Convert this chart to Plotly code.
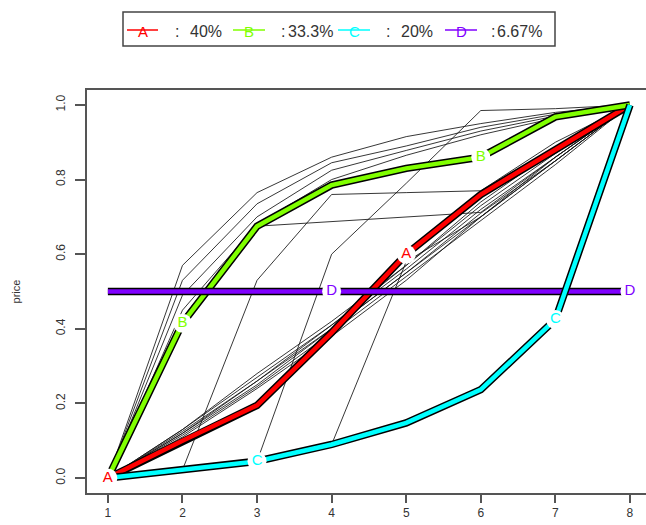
import plotly.graph_objects as go

# ---------------- data ----------------
x_vals = [1, 2, 3, 4, 5, 6, 7, 8]

series_A = [0.00, 0.10, 0.195, 0.39, 0.60, 0.76, 0.88, 1.00]
series_B = [0.00, 0.415, 0.675, 0.785, 0.83, 0.86, 0.968, 1.00]
series_C = [0.00, 0.022, 0.045, 0.09, 0.148, 0.237, 0.425, 1.00]
series_D = [0.50, 0.50, 0.50, 0.50, 0.50, 0.50, 0.50, 0.50]

# thin black background paths
thin_paths = [
    [0.00, 0.57, 0.765, 0.86, 0.915, 0.95, 0.98, 1.00],
    [0.00, 0.53, 0.735, 0.845, 0.89, 0.94, 0.975, 1.00],
    [0.00, 0.49, 0.70, 0.825, 0.878, 0.93, 0.97, 1.00],
    [0.00, 0.45, 0.68, 0.80, 0.865, 0.92, 0.965, 1.00],
    [0.00, 0.43, 0.675, 0.687, 0.70, 0.712, 0.86, 1.00],
    [0.00, 0.022, 0.53, 0.76, 0.765, 0.77, 0.90, 1.00],
    [0.00, 0.022, 0.045, 0.60, 0.79, 0.985, 0.99, 1.00],
    [0.00, 0.022, 0.045, 0.09, 0.58, 0.70, 0.85, 1.00],
    [0.00, 0.13, 0.27, 0.41, 0.56, 0.72, 0.86, 1.00],
    [0.00, 0.125, 0.26, 0.40, 0.55, 0.71, 0.85, 1.00],
    [0.00, 0.12, 0.25, 0.40, 0.55, 0.70, 0.85, 1.00],
    [0.00, 0.115, 0.245, 0.39, 0.54, 0.69, 0.84, 1.00],
    [0.00, 0.11, 0.24, 0.38, 0.53, 0.70, 0.86, 1.00],
    [0.00, 0.13, 0.28, 0.42, 0.57, 0.73, 0.87, 1.00],
    [0.00, 0.12, 0.26, 0.41, 0.57, 0.74, 0.88, 1.00],
]

letters = ["A", "B", "C", "D"]
shares = ["40%", "33.3%", "20%", "6.67%"]
colors = ["#FF0000", "#80FF00", "#00FFFF", "#8000FF"]
label_start = [0, 1, 2, 3]  # index of first labelled point for each series (every 4th)

x_ticks = [1, 2, 3, 4, 5, 6, 7, 8]
y_ticks = [0.0, 0.2, 0.4, 0.6, 0.8, 1.0]
y_tick_text = ["0.0", "0.2", "0.4", "0.6", "0.8", "1.0"]

# ---------------- figure ----------------
W, H = 646, 525
ML, MR, MT, MB = 87, 0, 90, 32
PW, PH = W - ML - MR, H - MT - MB

fig = go.Figure()

for p in thin_paths:
    fig.add_trace(go.Scatter(x=x_vals, y=p, mode="lines",
                             line=dict(color="rgba(20,20,20,0.85)", width=1),
                             hoverinfo="skip", showlegend=False))

all_series = [series_A, series_B, series_C, series_D]
order = [0, 1, 3, 2]
for i in order:
    ys = all_series[i]
    fig.add_trace(go.Scatter(x=x_vals, y=ys, mode="lines",
                             line=dict(color="black", width=7.5),
                             hoverinfo="skip", showlegend=False))
    fig.add_trace(go.Scatter(x=x_vals, y=ys, mode="lines",
                             line=dict(color=colors[i], width=4.5),
                             hoverinfo="skip", showlegend=False))
for i in order:
    ys = all_series[i]
    idx = list(range(label_start[i], len(x_vals), 4))
    fig.add_trace(go.Scatter(x=[x_vals[k] for k in idx], y=[ys[k] for k in idx],
                             mode="markers+text", cliponaxis=False,
                             marker=dict(color="white", size=19, line=dict(width=0)),
                             text=[letters[i]] * len(idx), textposition="middle center",
                             textfont=dict(family="Liberation Sans, Arial", size=15, color=colors[i]),
                             hoverinfo="skip", showlegend=False))

axis_col = "#555555"
fig.update_xaxes(range=[0.72, 8.215],
                 tickvals=x_ticks, ticktext=[str(v) for v in x_ticks],
                 showgrid=False, zeroline=False, showline=True, mirror=True,
                 linecolor=axis_col, linewidth=1.5, ticks="outside", ticklen=8,
                 tickcolor=axis_col, tickwidth=1.5,
                 tickfont=dict(family="Liberation Sans, Arial", size=12, color="#333"))
fig.update_yaxes(range=[-0.04, 1.04], tickvals=y_ticks, ticktext=y_tick_text,
                 showgrid=False, zeroline=False, showline=True,
                 linecolor=axis_col, linewidth=1.5, ticks="outside", ticklen=10,
                 tickcolor=axis_col, tickwidth=1.5, tickangle=-90, ticklabelstandoff=5,
                 tickfont=dict(family="Liberation Sans, Arial", size=12, color="#333"),
                 title=dict(text="price", font=dict(family="Liberation Sans, Arial", size=11, color="#333"),
                            standoff=32))

# ---------------- manual legend (pixel -> paper) ----------------
def px(xp):
    return (xp - ML) / PW

def py(yp):
    return (MT + PH - yp) / PH

shapes = [dict(type="rect", xref="paper", yref="paper",
               x0=px(123), x1=px(555), y0=py(46), y1=py(12),
               line=dict(color="#444", width=1.5), fillcolor="white")]
line_x = [(127, 158), (233, 265), (338, 370), (445, 477)]
colon_x = [173, 279, 384, 489]
text_x = [188, 286, 399, 495]
annotations = []
for i in range(4):
    x0, x1 = line_x[i]
    shapes.append(dict(type="line", xref="paper", yref="paper",
                       x0=px(x0), x1=px(x1), y0=py(30), y1=py(30),
                       line=dict(color=colors[i], width=1.5)))
    annotations.append(dict(xref="paper", yref="paper", x=px((x0 + x1) / 2), y=py(31),
                            text=letters[i], showarrow=False, xanchor="center", yanchor="middle",
                            font=dict(family="Liberation Sans, Arial", size=15, color=colors[i])))
    annotations.append(dict(xref="paper", yref="paper", x=px(colon_x[i]), y=py(31),
                            text=":", showarrow=False, xanchor="left", yanchor="middle",
                            font=dict(family="Liberation Sans, Arial", size=16, color="#333")))
    annotations.append(dict(xref="paper", yref="paper", x=px(text_x[i]), y=py(31),
                            text=shares[i], showarrow=False, xanchor="left", yanchor="middle",
                            font=dict(family="Liberation Sans, Arial", size=16, color="#333")))

fig.update_layout(width=W, height=H, margin=dict(l=ML, r=MR, t=MT, b=MB, pad=0),
                  paper_bgcolor="white", plot_bgcolor="white",
                  shapes=shapes, annotations=annotations, showlegend=False)

fig.write_html("out.html")
